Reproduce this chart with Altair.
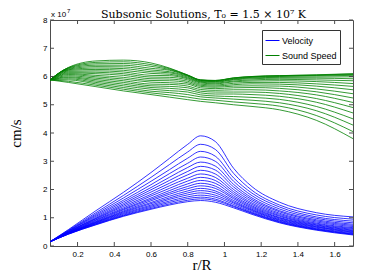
import altair as alt
import pandas as pd

# sample radii (r/R)
X = [0.05, 0.15, 0.3, 0.45, 0.6, 0.7, 0.8, 0.87, 0.95, 1.05, 1.15, 1.3, 1.5, 1.7]

# velocity curves (units of 1e7 cm/s), top to bottom
VEL = [
    [0.15, 0.58, 1.25, 1.90, 2.60, 3.10, 3.60, 3.90, 3.70, 2.75, 2.10, 1.55, 1.18, 1.03],
    [0.15, 0.56, 1.18, 1.79, 2.43, 2.88, 3.33, 3.60, 3.42, 2.57, 1.97, 1.45, 1.10, 0.95],
    [0.15, 0.54, 1.13, 1.70, 2.29, 2.70, 3.11, 3.35, 3.18, 2.41, 1.87, 1.38, 1.03, 0.88],
    [0.15, 0.53, 1.09, 1.62, 2.17, 2.56, 2.93, 3.15, 3.00, 2.29, 1.78, 1.31, 0.98, 0.82],
    [0.15, 0.52, 1.05, 1.56, 2.07, 2.43, 2.78, 2.97, 2.83, 2.18, 1.70, 1.25, 0.93, 0.77],
    [0.15, 0.50, 1.01, 1.50, 1.99, 2.32, 2.64, 2.82, 2.69, 2.09, 1.64, 1.21, 0.89, 0.73],
    [0.15, 0.50, 0.98, 1.45, 1.91, 2.22, 2.52, 2.68, 2.55, 2.00, 1.58, 1.16, 0.85, 0.69],
    [0.15, 0.49, 0.96, 1.40, 1.83, 2.13, 2.40, 2.55, 2.43, 1.92, 1.52, 1.12, 0.81, 0.65],
    [0.15, 0.48, 0.93, 1.35, 1.77, 2.04, 2.30, 2.43, 2.32, 1.85, 1.47, 1.08, 0.78, 0.62],
    [0.15, 0.47, 0.91, 1.31, 1.70, 1.96, 2.20, 2.32, 2.22, 1.78, 1.42, 1.05, 0.75, 0.59],
    [0.15, 0.46, 0.88, 1.28, 1.65, 1.89, 2.11, 2.22, 2.12, 1.72, 1.38, 1.01, 0.73, 0.56],
    [0.15, 0.46, 0.86, 1.24, 1.60, 1.83, 2.03, 2.13, 2.04, 1.67, 1.34, 0.99, 0.70, 0.54],
    [0.15, 0.45, 0.84, 1.21, 1.54, 1.76, 1.95, 2.04, 1.95, 1.61, 1.30, 0.96, 0.68, 0.51],
    [0.15, 0.44, 0.83, 1.18, 1.50, 1.70, 1.88, 1.96, 1.88, 1.56, 1.27, 0.93, 0.66, 0.49],
    [0.15, 0.44, 0.81, 1.15, 1.45, 1.65, 1.81, 1.88, 1.80, 1.52, 1.24, 0.91, 0.63, 0.47],
    [0.15, 0.43, 0.79, 1.12, 1.41, 1.59, 1.74, 1.80, 1.73, 1.47, 1.20, 0.88, 0.61, 0.44],
    [0.15, 0.43, 0.78, 1.09, 1.37, 1.54, 1.68, 1.73, 1.66, 1.42, 1.17, 0.86, 0.59, 0.42],
    [0.15, 0.42, 0.76, 1.07, 1.33, 1.49, 1.62, 1.67, 1.61, 1.39, 1.15, 0.84, 0.58, 0.41],
    [0.15, 0.42, 0.75, 1.05, 1.30, 1.45, 1.57, 1.61, 1.55, 1.35, 1.12, 0.82, 0.56, 0.39],
]

# sound-speed curves (units of 1e7 cm/s), top to bottom
SND = [
    [5.88, 6.32, 6.55, 6.58, 6.48, 6.30, 6.05, 5.88, 5.86, 5.95, 6.00, 6.03, 6.06, 6.10],
    [5.88, 6.31, 6.50, 6.52, 6.42, 6.28, 6.05, 5.88, 5.86, 5.95, 6.00, 6.03, 6.05, 6.09],
    [5.88, 6.30, 6.45, 6.46, 6.36, 6.25, 6.04, 5.87, 5.85, 5.94, 5.99, 6.02, 6.04, 6.07],
    [5.88, 6.28, 6.40, 6.40, 6.29, 6.22, 6.03, 5.86, 5.84, 5.92, 5.97, 6.00, 6.02, 6.04],
    [5.88, 6.26, 6.35, 6.34, 6.23, 6.17, 6.01, 5.84, 5.82, 5.90, 5.95, 5.97, 5.98, 5.99],
    [5.88, 6.24, 6.30, 6.28, 6.17, 6.13, 5.98, 5.82, 5.80, 5.88, 5.92, 5.94, 5.94, 5.92],
    [5.88, 6.22, 6.25, 6.22, 6.11, 6.08, 5.95, 5.80, 5.77, 5.84, 5.88, 5.90, 5.88, 5.85],
    [5.88, 6.19, 6.20, 6.16, 6.04, 6.03, 5.92, 5.77, 5.74, 5.81, 5.84, 5.85, 5.82, 5.75],
    [5.88, 6.16, 6.15, 6.10, 5.98, 5.97, 5.88, 5.73, 5.70, 5.76, 5.79, 5.79, 5.74, 5.65],
    [5.88, 6.13, 6.10, 6.04, 5.92, 5.91, 5.83, 5.69, 5.66, 5.71, 5.74, 5.73, 5.66, 5.53],
    [5.88, 6.10, 6.04, 5.97, 5.86, 5.85, 5.78, 5.65, 5.62, 5.66, 5.67, 5.66, 5.56, 5.39],
    [5.88, 6.07, 5.99, 5.91, 5.80, 5.78, 5.73, 5.60, 5.57, 5.60, 5.61, 5.58, 5.46, 5.24],
    [5.88, 6.03, 5.94, 5.85, 5.73, 5.72, 5.66, 5.54, 5.51, 5.53, 5.53, 5.49, 5.35, 5.08],
    [5.88, 5.99, 5.89, 5.79, 5.67, 5.65, 5.60, 5.48, 5.45, 5.45, 5.45, 5.40, 5.22, 4.90],
    [5.88, 5.96, 5.84, 5.73, 5.61, 5.58, 5.52, 5.42, 5.38, 5.38, 5.36, 5.30, 5.09, 4.71],
    [5.88, 5.92, 5.79, 5.67, 5.55, 5.50, 5.45, 5.35, 5.31, 5.29, 5.26, 5.19, 4.94, 4.50],
    [5.88, 5.88, 5.74, 5.61, 5.48, 5.43, 5.36, 5.28, 5.24, 5.20, 5.16, 5.07, 4.79, 4.28],
    [5.88, 5.83, 5.69, 5.55, 5.42, 5.35, 5.27, 5.20, 5.16, 5.10, 5.05, 4.95, 4.62, 4.05],
    [5.88, 5.79, 5.64, 5.49, 5.36, 5.27, 5.18, 5.12, 5.07, 5.00, 4.94, 4.82, 4.45, 3.80],
]

SERIES = ["Velocity", "Sound Speed"]
COLORS = ["#0000ff", "#008000"]
XTICKS = [0.2, 0.4, 0.6, 0.8, 1.0, 1.2, 1.4, 1.6]
YTICKS = [0, 1, 2, 3, 4, 5, 6, 7, 8]
TITLE = "Subsonic Solutions, T\u2080 = 1.5 \u00d7 10\u2077 K"

W, H = 303, 226
TL = 4  # inward tick length
AXC = "#4d4d4d"

rows = []
for name, group in (("Velocity", VEL), ("Sound Speed", SND)):
    for i, curve in enumerate(group):
        for x, v in zip(X, curve):
            rows.append({"x": x, "v": v, "id": f"{name}-{i}", "series": name})
df = pd.DataFrame(rows)

xscale = alt.Scale(domain=[0.05, 1.7], nice=False, zero=False)
yscale = alt.Scale(domain=[0, 8], nice=False, zero=False)

xaxis = alt.Axis(
    values=XTICKS, format=".1~f", title="r/R", domain=False, ticks=False, grid=False,
    labelFont="Liberation Sans", labelFontSize=8, labelColor="black", labelPadding=4,
    titleFont="Liberation Serif", titleFontSize=15, titleFontWeight="normal", titleColor="black",
    titleY=23, titleBaseline="alphabetic")
yaxis = alt.Axis(
    values=YTICKS, format="d", title="cm/s", domain=False, ticks=False, grid=False,
    labelFont="Liberation Sans", labelFontSize=8, labelColor="black", labelPadding=3,
    titleFont="Liberation Serif", titleFontSize=15, titleFontWeight="normal", titleColor="black",
    titleX=-27, titleY=H / 2, titleAngle=-90, titleBaseline="bottom", titleAlign="center")

lines = alt.Chart(df).mark_line(strokeWidth=0.8, interpolate="monotone", clip=True).encode(
    x=alt.X("x:Q", scale=xscale, axis=xaxis),
    y=alt.Y("v:Q", scale=yscale, axis=yaxis),
    color=alt.Color("series:N", scale=alt.Scale(domain=SERIES, range=COLORS), legend=alt.Legend(
        title=None, orient="none", legendX=212, legendY=10, symbolType="stroke", symbolSize=196,
        symbolStrokeWidth=1, labelFont="Liberation Sans", labelFontSize=9, labelColor="black",
        strokeColor="#333333", fillColor="white", padding=3, rowPadding=2, labelOffset=2)),
    detail="id:N",
)

xt = pd.DataFrame({"t": XTICKS})
yt = pd.DataFrame({"t": YTICKS})

def xtick(y1, y2):
    return alt.Chart(xt).mark_rule(color=AXC, strokeWidth=1).encode(
        x=alt.X("t:Q", scale=xscale, axis=xaxis), y=alt.value(y1), y2=alt.value(y2))

def ytick(x1, x2):
    return alt.Chart(yt).mark_rule(color=AXC, strokeWidth=1).encode(
        y=alt.Y("t:Q", scale=yscale, axis=yaxis), x=alt.value(x1), x2=alt.value(x2))

def label(text, x, y, size, font="Liberation Sans", align="left"):
    return alt.Chart(pd.DataFrame({"t": [text]})).mark_text(
        font=font, fontSize=size, align=align, baseline="alphabetic", color="black"
    ).encode(x=alt.value(x), y=alt.value(y), text="t:N")

title = label(TITLE, W / 2 + 2, -2, 11, font="DejaVu Serif", align="center")
mult = label("x 10", 1, -3, 8)
mult_exp = label("7", 17, -7, 6)

chart = alt.layer(
    lines, xtick(H, H - TL), xtick(0, TL), ytick(0, TL), ytick(W, W - TL), title, mult, mult_exp
).properties(
    width=W, height=H,
    padding={"left": 42, "top": 12, "right": 30, "bottom": 30},
    autosize=alt.AutoSizeParams(type="none"),
).configure_view(stroke=AXC, strokeWidth=1)

chart.save("out.html", embed_options={"renderer": "svg", "actions": False})
